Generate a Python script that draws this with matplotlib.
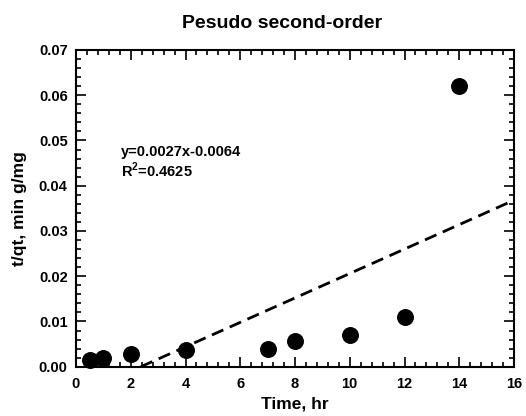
import matplotlib
matplotlib.use("Agg")
import matplotlib.pyplot as plt
import numpy as np
from matplotlib.ticker import MultipleLocator, FormatStrFormatter

plt.rcParams['font.family'] = ['Liberation Sans', 'DejaVu Sans']
plt.rcParams['font.weight'] = 'bold'
plt.rcParams['mathtext.fontset'] = 'custom'
plt.rcParams['mathtext.bf'] = 'Liberation Sans:bold'
plt.rcParams['mathtext.rm'] = 'Liberation Sans:bold'

time_hr = [0.5, 1, 2, 4, 7, 8, 10, 12, 14]
t_over_qt = [0.0015, 0.0020, 0.0028, 0.0037, 0.0039, 0.0057, 0.0070, 0.0109, 0.0620]
slope = 0.0027
intercept = -0.0064
fit_text = "y=0.0027x-0.0064"
r2_text = "R$^\\mathbf{2}$=0.4625"

fig = plt.figure(figsize=(5.26, 4.16), dpi=100)
ax = fig.add_axes([76/526, 1-366.7/416, 438/526, 316.7/416])

ax.scatter(time_hr, t_over_qt, s=125, color='black', zorder=3, clip_on=False)
x0 = -intercept / slope
xf = np.array([x0, 16])
ax.plot(xf, slope * xf + intercept, color='black', lw=2.0, ls=(0, (4.5, 2.5)))

ax.set_xlim(0, 16)
ax.set_ylim(0, 0.07)
ax.xaxis.set_major_locator(MultipleLocator(2))
ax.xaxis.set_minor_locator(MultipleLocator(0.4))
ax.yaxis.set_major_locator(MultipleLocator(0.01))
ax.yaxis.set_minor_locator(MultipleLocator(0.002))
ax.yaxis.set_major_formatter(FormatStrFormatter('%.2f'))
ax.xaxis.set_major_formatter(FormatStrFormatter('%d'))
ax.tick_params(which='both', direction='in', top=True, right=True, width=1.2, labelsize=10.5)
ax.tick_params(axis='y', pad=6)
ax.tick_params(axis='x', pad=7.5)
ax.tick_params(which='major', length=7)
ax.tick_params(which='minor', length=3.8)
for sp in ax.spines.values():
    sp.set_linewidth(1.5)

ax.set_title("Pesudo second-order", fontsize=14, fontweight='bold', pad=16, x=0.47)
ax.set_xlabel("Time, hr", fontsize=12.5, fontweight='bold', labelpad=4)
ax.set_ylabel("t/qt, min g/mg", fontsize=12.5, fontweight='bold')
ax.yaxis.set_label_coords(-0.1126, 0.5)

ax.text(1.63, 0.0475, fit_text, fontsize=10.5, fontweight='bold', va='center')
ax.text(1.63, 0.0433, r2_text, fontsize=10.5, fontweight='bold', va='center')

fig.savefig("out.png", dpi=100)
